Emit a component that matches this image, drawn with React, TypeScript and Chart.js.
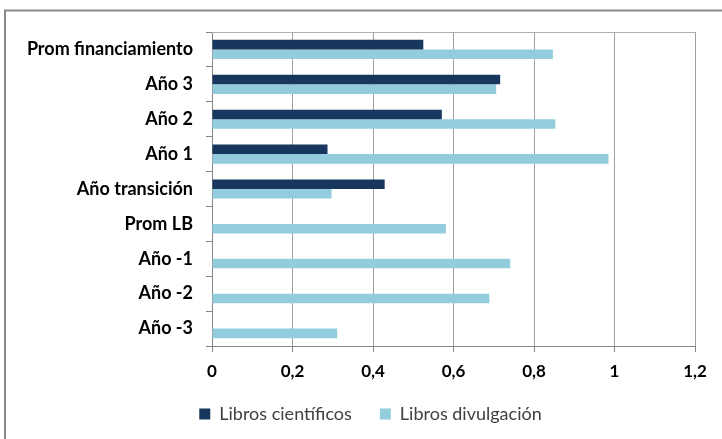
import React, { useEffect, useRef } from "react";
import { Chart, registerables } from "chart.js";

Chart.register(...registerables);

const categories = [
  "Prom financiamiento",
  "Año 3",
  "Año 2",
  "Año 1",
  "Año transición",
  "Prom LB",
  "Año -1",
  "Año -2",
  "Año -3",
];
const librosCientificos = [0.525, 0.716, 0.571, 0.287, 0.429, null, null, null, null];
const librosDivulgacion = [0.847, 0.706, 0.853, 0.985, 0.297, 0.581, 0.741, 0.689, 0.311];
const xTickValues = [0, 0.2, 0.4, 0.6, 0.8, 1, 1.2];
const seriesNames = ["Libros científicos", "Libros divulgación"];

const FONT = "Lato, 'Open Sans', sans-serif";

const framePlugin = {
  id: "frame",
  afterLayout(chart: any) {
    const lg = chart.legend;
    if (lg) {
      lg.left += 23;
      lg.right += 23;
      lg.top = 377;
    }
  },
  afterDraw(chart: any) {
    const { ctx, chartArea } = chart;
    ctx.save();
    // plot area top border
    ctx.strokeStyle = "#b0b0b0";
    ctx.lineWidth = 1;
    ctx.beginPath();
    ctx.moveTo(chartArea.left, Math.round(chartArea.top) + 0.5);
    ctx.lineTo(chartArea.right, Math.round(chartArea.top) + 0.5);
    ctx.stroke();
    // outer chart border (left and top)
    ctx.strokeStyle = "#878787";
    ctx.lineWidth = 2;
    ctx.beginPath();
    ctx.moveTo(5, chart.height);
    ctx.lineTo(5, 10.5);
    ctx.lineTo(chart.width, 10.5);
    ctx.stroke();
    ctx.restore();
  },
};

export default function App() {
  const ref = useRef<HTMLCanvasElement>(null);

  useEffect(() => {
    if (!ref.current) return;
    const chart = new Chart(ref.current, {
      type: "bar",
      data: {
        labels: categories,
        datasets: [
          {
            label: seriesNames[0],
            data: librosCientificos,
            backgroundColor: "#17375E",
            categoryPercentage: 0.55,
            barPercentage: 1,
          },
          {
            label: seriesNames[1],
            data: librosDivulgacion,
            backgroundColor: "#93CDDD",
            categoryPercentage: 0.55,
            barPercentage: 1,
          },
        ],
      },
      options: {
        indexAxis: "y",
        responsive: false,
        animation: false,
        layout: { padding: { left: 0, top: 32, right: 27, bottom: 0 } },
        scales: {
          x: {
            min: 0,
            max: 1.2,
            afterBuildTicks: (scale: any) => {
              scale.ticks = xTickValues.map((v) => ({ value: v }));
            },
            afterFit: (scale: any) => {
              scale.height = 44;
            },
            ticks: {
              callback: (v: any) => String(Math.round(Number(v) * 10) / 10).replace(".", ","),
              font: { family: FONT, size: 17, weight: "bold" },
              color: "#000000",
              padding: 9,
              maxRotation: 0,
              autoSkip: false,
            },
            grid: {
              color: "#a0a0a0",
              tickColor: "#868686",
              tickLength: 6,
            },
            border: { color: "#868686" },
          },
          y: {
            afterFit: (scale: any) => {
              scale.width = 212;
            },
            ticks: {
              font: { family: FONT, size: 18, weight: "bold" },
              color: "#000000",
              padding: 13,
              autoSkip: false,
            },
            grid: {
              drawOnChartArea: false,
              drawTicks: true,
              tickLength: 6,
              color: "#868686",
              offset: true,
            },
            border: { color: "#868686" },
          },
        },
        plugins: {
          legend: {
            position: "bottom",
            maxHeight: 49,
            labels: {
              font: { family: FONT, size: 18 },
              color: "#404040",
              boxWidth: 11,
              boxHeight: 11,
              padding: 28,
            },
          },
          tooltip: { enabled: false },
        },
      },
      plugins: [framePlugin],
    } as any);
    return () => chart.destroy();
  }, []);

  return (
    <div style={{ position: "absolute", left: 0, top: 0, width: 722, height: 439, background: "#fff" }}>
      <canvas ref={ref} width={722} height={439} style={{ display: "block" }} />
    </div>
  );
}
